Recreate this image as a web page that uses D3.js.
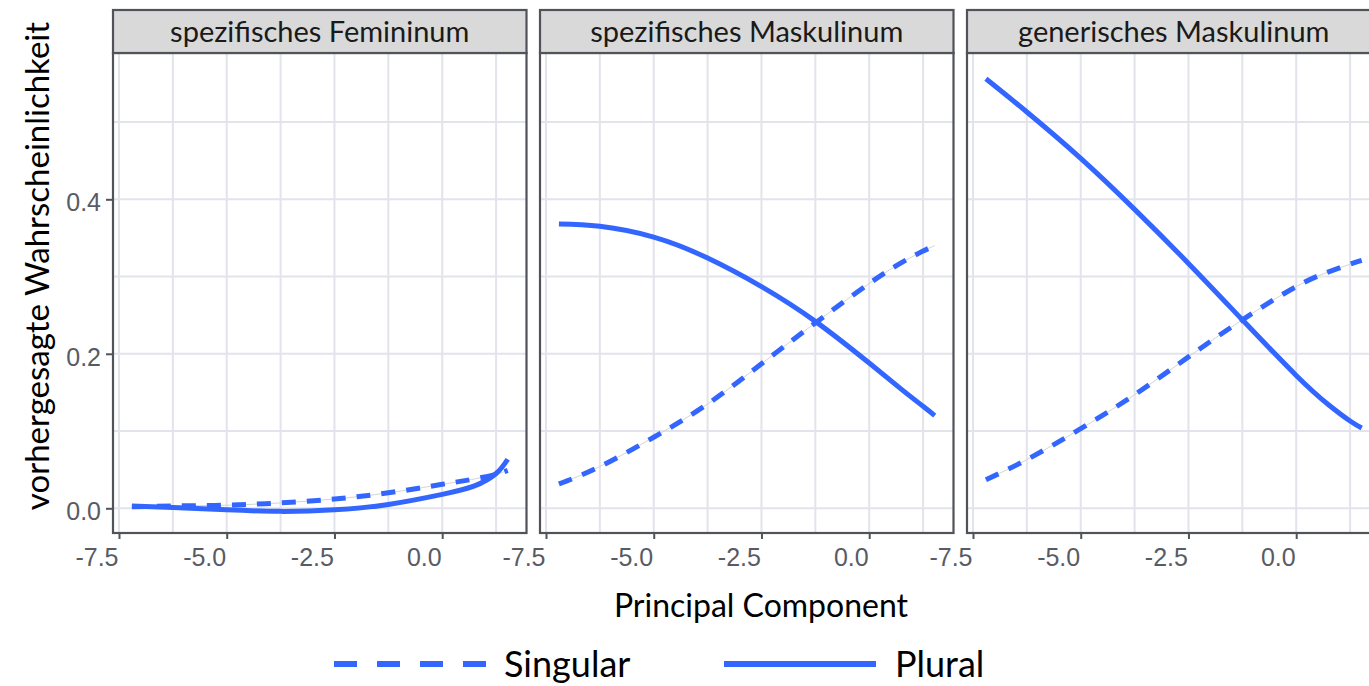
<!DOCTYPE html>
<html>
<head>
<meta charset="utf-8">
<script src="https://cdn.jsdelivr.net/npm/d3@7"></script>
<style>
  body { margin: 0; background: #fff; }
  svg { display: block; }
</style>
</head>
<body>
<div id="chart"></div>
<script>
// facet names
const panels = ['spezifisches Femininum', 'spezifisches Maskulinum', 'generisches Maskulinum'];

const pc = [-7.2, -6.25, -5, -3.75, -2.5, -1.25, 0, 0.75, 1.25, 1.52];

// predicted probability, singular (dashed)
const singFem = [0.002, 0.003, 0.004, 0.007, 0.012, 0.020, 0.031, 0.038, 0.044, 0.049];
const singMaskSpez = [0.0315, 0.054, 0.092, 0.135, 0.187, 0.240, 0.291, 0.318, 0.333, 0.340];
const singMaskGen = [0.037, 0.063, 0.103, 0.147, 0.196, 0.244, 0.287, 0.306, 0.316, 0.321];

// predicted probability, plural (solid)
const plurFem = [0.003, 0.001, -0.002, -0.004, -0.002, 0.005, 0.018, 0.029, 0.045, 0.0635];
const plurMaskSpez = [0.368, 0.365, 0.351, 0.324, 0.287, 0.242, 0.188, 0.154, 0.132, 0.120];
const plurMaskGen = [0.556, 0.513, 0.453, 0.387, 0.317, 0.244, 0.172, 0.134, 0.113, 0.104];

const xTicks = [-7.5, -5.0, -2.5, 0.0];
const xMinor = [-6.25, -3.75, -1.25, 1.25];
const yTicks = [0.0, 0.2, 0.4];
const yMinor = [0.1, 0.3, 0.5];

const series = [
    { sing: singFem, plur: plurFem },
    { sing: singMaskSpez, plur: plurMaskSpez },
    { sing: singMaskGen, plur: plurMaskGen },
];

const width = 1369, height = 686;
const panelLeft = 113, panelW = 413.5, panelStep = 427;
const stripTop = 10, panelTop = 53, panelBottom = 533;
const blue = '#3366FF';
const frame = '#505359';
const gridCol = '#e3e3eb';
const tickCol = '#585b64';

const svg = d3.select('#chart')
    .append('svg')
    .attr('width', width)
    .attr('height', height);

let x = d3.scaleLinear().domain([-7.639, 1.956]).range([0, panelW]);
let y = d3.scaleLinear().domain([-0.032, 0.5894]).range([panelBottom, panelTop]);

const fmt = (d) => d3.format('.1f')(d).replace('\u2212', '-');

let line = d3.line()
    .x((d) => x(d[0]))
    .y((d) => y(d[1]))
    .curve(d3.curveNatural);

panels.forEach((name, i) => {
    let g = svg.append('g')
        .attr('transform', 'translate(' + (panelLeft + i * panelStep) + ',0)');

    // grid
    g.selectAll('.vgrid').data(xMinor.concat(xTicks)).enter().append('line')
        .attr('x1', (d) => x(d)).attr('x2', (d) => x(d))
        .attr('y1', panelTop).attr('y2', panelBottom)
        .attr('stroke', gridCol).attr('stroke-width', 2);
    g.selectAll('.hgrid').data(yMinor.concat(yTicks)).enter().append('line')
        .attr('x1', 0).attr('x2', panelW)
        .attr('y1', (d) => y(d)).attr('y2', (d) => y(d))
        .attr('stroke', gridCol).attr('stroke-width', 2);

    let s = series[i];
    let singData = pc.map((v, k) => [v, s.sing[k]]);
    let plurData = pc.map((v, k) => [v, s.plur[k]]);

    // thin grey line under the dashes
    g.append('path').datum(singData)
        .attr('d', line).attr('fill', 'none')
        .attr('stroke', '#d4d4d4').attr('stroke-width', 1);
    g.append('path').datum(singData)
        .attr('d', line).attr('fill', 'none')
        .attr('stroke', blue).attr('stroke-width', 5)
        .attr('stroke-dasharray', '14,11');
    g.append('path').datum(plurData)
        .attr('d', line).attr('fill', 'none')
        .attr('stroke', blue).attr('stroke-width', 5);

    // panel border
    g.append('rect')
        .attr('x', 0).attr('y', panelTop)
        .attr('width', panelW).attr('height', panelBottom - panelTop)
        .attr('fill', 'none').attr('stroke', frame).attr('stroke-width', 2.2);

    // strip
    g.append('rect')
        .attr('x', 0).attr('y', stripTop)
        .attr('width', panelW).attr('height', panelTop - stripTop)
        .attr('fill', '#d9d9d9').attr('stroke', frame).attr('stroke-width', 2.2);
    g.append('text')
        .attr('x', panelW / 2).attr('y', (stripTop + panelTop) / 2)
        .attr('dy', '0.36em')
        .attr('text-anchor', 'middle')
        .style('font-family', 'Lato')
        .style('font-size', '29px')
        .attr('fill', '#1a1a1a')
        .text(name);

    // x axis
    let xAxis = g.append('g')
        .attr('transform', 'translate(0,' + panelBottom + ')')
        .call(d3.axisBottom(x).tickValues(xTicks).tickFormat(fmt).tickSize(6).tickPadding(9));
    xAxis.select('.domain').remove();
    xAxis.selectAll('line').attr('stroke', frame).attr('stroke-width', 2);
    xAxis.selectAll('text')
        .attr('text-anchor', 'end')
        .attr('dx', '-1')
        .attr('fill', tickCol)
        .style('font-family', 'Liberation Sans, Arial')
        .style('font-size', '25px');

    if (i === 0) {
        let yAxis = g.append('g')
            .call(d3.axisLeft(y).tickValues(yTicks).tickFormat(fmt).tickSize(7).tickPadding(5));
        yAxis.select('.domain').remove();
        yAxis.selectAll('line').attr('stroke', frame).attr('stroke-width', 2);
        yAxis.selectAll('text')
            .attr('dy', '0.46em')
            .attr('fill', tickCol)
            .style('font-family', 'Liberation Sans, Arial')
            .style('font-size', '25px');
    }
});

// axis titles
svg.append('text')
    .attr('x', 761).attr('y', 617)
    .attr('text-anchor', 'middle')
    .style('font-family', 'Lato')
    .style('font-size', '32px')
    .attr('fill', '#000')
    .text('Principal Component');

svg.append('text')
    .attr('transform', 'translate(49,266) rotate(-90)')
    .attr('text-anchor', 'middle')
    .style('font-family', 'Lato')
    .style('font-size', '33px')
    .attr('fill', '#000')
    .text('vorhergesagte Wahrscheinlichkeit');

// legend
const legendItems = [
    { label: 'Singular', dash: '23,20', x0: 334, x1: 486, tx: 504 },
    { label: 'Plural', dash: null, x0: 724, x1: 876, tx: 895 },
];
let legend = svg.append('g');
legend.selectAll('line').data(legendItems).enter().append('line')
    .attr('x1', (d) => d.x0).attr('x2', (d) => d.x1)
    .attr('y1', 664).attr('y2', 664)
    .attr('stroke', blue).attr('stroke-width', 6)
    .attr('stroke-dasharray', (d) => d.dash);
legend.selectAll('text').data(legendItems).enter().append('text')
    .attr('x', (d) => d.tx).attr('y', 677)
    .style('font-family', 'Lato')
    .style('font-size', '36px')
    .attr('fill', '#000')
    .text((d) => d.label);
</script>
</body>
</html>
